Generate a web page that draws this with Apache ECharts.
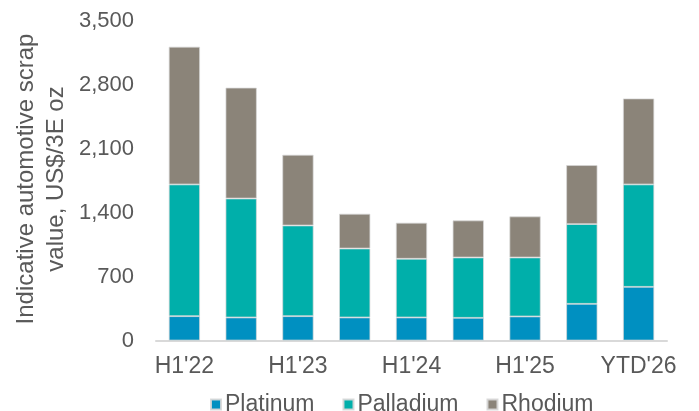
<!DOCTYPE html>
<html>
<head>
<meta charset="utf-8">
<script src="https://cdn.jsdelivr.net/npm/echarts@6/dist/echarts.min.js"></script>
<style>
html,body{margin:0;padding:0;background:#fff;}
#c{width:699px;height:411px;}
</style>
</head>
<body>
<div id="c"></div>
<script>
const categories = ["H1'22","H2'22","H1'23","H2'23","H1'24","H2'24","H1'25","H2'25","YTD'26"];
const platinum  = [266, 252, 266, 252, 252, 248, 263, 401, 587];
const palladium = [1441, 1301, 992, 754, 642, 660, 645, 872, 1120];
const rhodium   = [1506, 1212, 773, 380, 394, 405, 449, 645, 940];
const yTicks = [0, 700, 1400, 2100, 2800, 3500];
const yTitle = "Indicative automotive scrap\nvalue, US$/3E oz";

const FONT = '"Liberation Sans", Arial, sans-serif';
const TXT = '#595959';
const chart = echarts.init(document.getElementById('c'));
const mk = (name, data, color) => ({
  name, type: 'bar', stack: 'total', data, barWidth: '55%',
  itemStyle: { color, borderColor: 'rgba(215,215,215,0.9)', borderWidth: 0.8 }
});
chart.setOption({
  animation: false,
  backgroundColor: '#fff',
  textStyle: { fontFamily: FONT },
  grid: { left: 156, right: 32, top: 20.5, bottom: 70.5 },
  xAxis: {
    type: 'category', data: categories,
    axisLine: { lineStyle: { color: '#d9d9d9', width: 2 } },
    axisTick: { show: false },
    axisLabel: { interval: 1, color: TXT, fontSize: 23, fontFamily: FONT, margin: 15 }
  },
  yAxis: {
    type: 'value', min: yTicks[0], max: yTicks[yTicks.length - 1], interval: 700,
    splitLine: { show: false }, axisLine: { show: false }, axisTick: { show: false },
    axisLabel: {
      color: TXT, fontSize: 22, fontFamily: FONT, margin: 22,
      formatter: v => v.toLocaleString('en-US')
    }
  },
  legend: {
    data: ['Platinum', 'Palladium', 'Rhodium'],
    left: 205, top: 388, icon: 'rect', itemWidth: 10, itemHeight: 10, itemGap: 28,
    textStyle: { color: TXT, fontSize: 23, fontFamily: FONT, padding: [0, 0, 0, -1] }
  },
  graphic: [{
    type: 'text', x: 41, y: 179, rotation: Math.PI / 2,
    style: {
      text: yTitle, fill: TXT, font: '24px ' + FONT,
      textAlign: 'center', textVerticalAlign: 'middle', lineHeight: 30
    }
  }],
  series: [
    mk('Platinum', platinum, '#0090c1'),
    mk('Palladium', palladium, '#00afaa'),
    mk('Rhodium', rhodium, '#8b8479')
  ]
});
</script>
</body>
</html>
